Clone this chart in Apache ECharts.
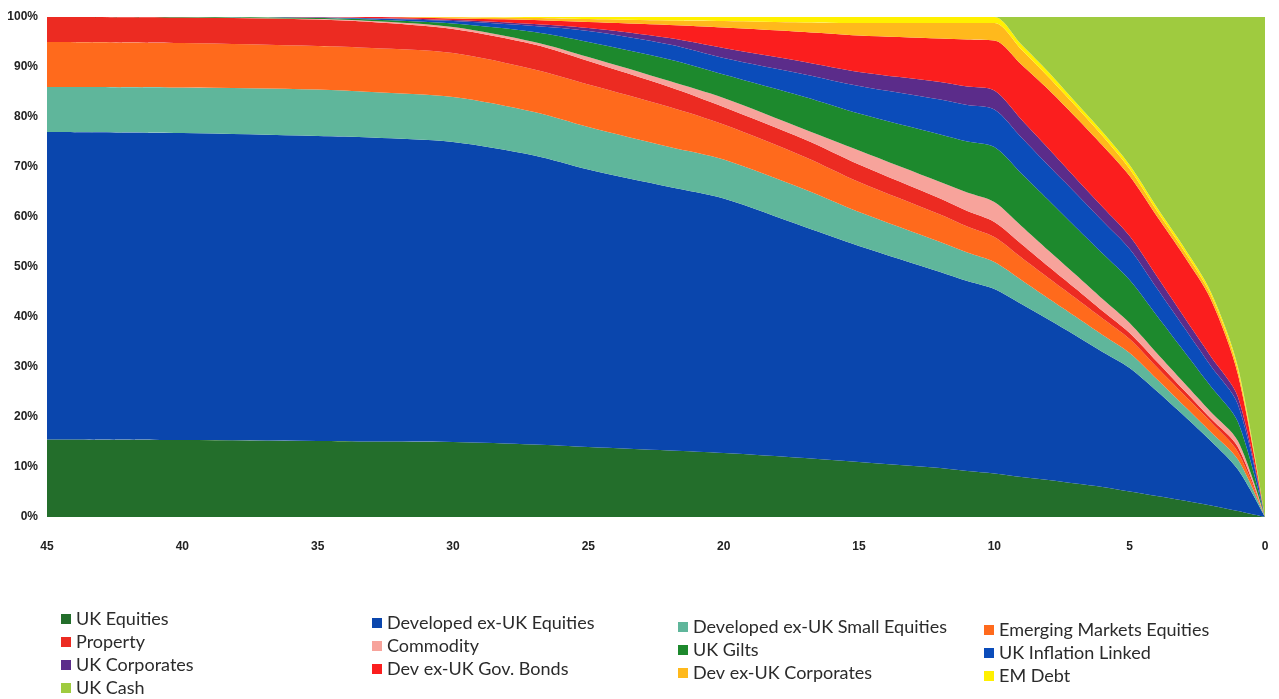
<!DOCTYPE html>
<html>
<head>
<meta charset="utf-8">
<script src="https://cdn.jsdelivr.net/npm/echarts@6/dist/echarts.min.js"></script>
<style>
html,body{margin:0;padding:0;background:#fff;}
#chart{width:1279px;height:699px;}
</style>
</head>
<body>
<div id="chart"></div>
<script>
// Years to retirement (x positions)
const years = [45, 40, 35, 33, 30, 27, 25, 22, 20, 17, 15, 12, 11, 10, 9, 8, 7, 6, 5, 4, 3, 2, 1, 0];

// Allocation (%) per asset class
const ukEquities      = [15.5, 15.4, 15.2, 15.1, 15.0, 14.5, 14.0, 13.3, 12.8, 11.8, 11.0, 9.8, 9.2, 8.7, 8.0, 7.4, 6.7, 6.0, 5.1, 4.2, 3.3, 2.3, 1.2, 0];
const devExUkEquities = [61.5, 61.4, 61.0, 60.8, 60.0, 57.8, 55.5, 52.7, 50.9, 46.2, 43.2, 39.2, 38.0, 36.9, 34.6, 32.1, 29.6, 27.0, 24.7, 21.0, 17.0, 12.9, 8.3, 0];
const devExUkSmall    = [9.0, 9.1, 9.3, 9.1, 9.0, 8.7, 8.5, 8.0, 7.8, 7.5, 6.8, 6.0, 5.7, 5.4, 4.8, 4.2, 3.8, 3.4, 3.0, 2.4, 2.0, 1.8, 2.0, 0];
const emEquities      = [9.0, 8.9, 8.7, 8.8, 8.8, 8.5, 8.5, 8.0, 7.0, 6.5, 6.0, 5.5, 5.2, 5.0, 4.5, 4.1, 3.7, 3.3, 2.8, 2.4, 2.2, 2.0, 1.5, 0];
const property        = [5.0, 5.1, 5.3, 5.2, 4.8, 5.0, 4.7, 4.0, 3.5, 3.5, 3.5, 3.2, 3.1, 3.0, 2.7, 2.3, 1.9, 1.5, 1.2, 1.1, 0.9, 0.7, 1.0, 0];
const commodity       = [0, 0, 0.1, 0.2, 0.4, 0.5, 0.8, 1.2, 1.8, 2.0, 2.8, 3.3, 3.7, 4.0, 3.6, 3.2, 2.8, 2.4, 2.0, 1.7, 1.5, 1.3, 1.2, 0];
const ukGilts         = [0, 0.1, 0.2, 0.3, 0.7, 2.0, 3.0, 4.3, 4.7, 6.5, 7.4, 9.5, 10.2, 11.0, 10.5, 10.1, 9.5, 9.1, 8.6, 7.5, 6.3, 5.1, 3.8, 0];
const ukInflation     = [0, 0, 0.1, 0.2, 0.5, 1.2, 2.2, 3.0, 3.3, 4.5, 5.5, 7.0, 7.3, 7.5, 7.2, 6.9, 6.8, 6.5, 6.2, 5.5, 4.8, 4.1, 3.5, 0];
const ukCorporates    = [0, 0, 0.05, 0.1, 0.2, 0.4, 0.6, 1.3, 2.0, 2.5, 2.8, 3.5, 3.7, 3.8, 3.6, 3.4, 3.0, 2.8, 2.6, 2.4, 2.1, 1.9, 1.5, 0];
const devGovBonds     = [0, 0, 0.05, 0.2, 0.3, 0.8, 1.2, 2.6, 4.1, 6.0, 7.3, 8.7, 9.4, 10.0, 11.0, 11.8, 12.2, 12.3, 12.0, 12.0, 12.2, 11.4, 4.5, 0];
const devCorporates   = [0, 0, 0, 0, 0.25, 0.4, 0.6, 0.9, 1.3, 1.9, 2.5, 3.1, 3.3, 3.5, 3.0, 2.5, 2.2, 1.9, 1.4, 1.1, 1.0, 0.9, 0.9, 0];
const emDebt          = [0, 0, 0, 0, 0.05, 0.2, 0.4, 0.7, 0.8, 1.1, 1.2, 1.2, 1.2, 1.2, 1.0, 1.0, 0.8, 0.8, 0.8, 0.7, 0.7, 0.6, 0.6, 0];
const ukCash          = [0, 0, 0, 0, 0, 0, 0, 0, 0, 0, 0, 0, 0, 0, 5.5, 11, 17, 23, 29.6, 38, 46, 55, 70, 100];

const xTicks = [45, 40, 35, 30, 25, 20, 15, 10, 5, 0];

const seriesDefs = [
  ['UK Equities', ukEquities, '#236e2b'],
  ['Developed ex-UK Equities', devExUkEquities, '#0a46ad'],
  ['Developed ex-UK Small Equities', devExUkSmall, '#5fb69b'],
  ['Emerging Markets Equities', emEquities, '#ff6a1c'],
  ['Property', property, '#ec2b22'],
  ['Commodity', commodity, '#f7a39b'],
  ['UK Gilts', ukGilts, '#1d892d'],
  ['UK Inflation Linked', ukInflation, '#0b4cba'],
  ['UK Corporates', ukCorporates, '#5b2c8a'],
  ['Dev ex-UK Gov. Bonds', devGovBonds, '#fb1e1e'],
  ['Dev ex-UK Corporates', devCorporates, '#ffb91c'],
  ['EM Debt', emDebt, '#fff000'],
  ['UK Cash', ukCash, '#9fcb3f']
];

// value first, year second: the library stacks the first numeric dimension
const series = seriesDefs.map(([name, vals, color]) => ({
  name: name,
  type: 'line',
  stack: 'total',
  smooth: 0.3,
  symbol: 'none',
  showSymbol: false,
  lineStyle: { width: 0 },
  itemStyle: { color: color },
  areaStyle: { color: color, opacity: 1 },
  emphasis: { disabled: true },
  encode: { x: 1, y: 0 },
  data: years.map((y, i) => [vals[i], y])
}));

const legendCols = [
  ['UK Equities', 'Property', 'UK Corporates', 'UK Cash'],
  ['Developed ex-UK Equities', 'Commodity', 'Dev ex-UK Gov. Bonds'],
  ['Developed ex-UK Small Equities', 'UK Gilts', 'Dev ex-UK Corporates'],
  ['Emerging Markets Equities', 'UK Inflation Linked', 'EM Debt']
];
const legendLeft = [61, 372, 678, 984];
const legendTop = [610, 614, 618, 621];

const legend = legendCols.map((names, k) => ({
  orient: 'vertical',
  left: legendLeft[k],
  top: legendTop[k],
  height: 100,
  padding: 0,
  data: names,
  icon: 'rect',
  itemWidth: 10,
  itemHeight: 10,
  itemGap: 5,
  selectedMode: false,
  textStyle: { fontFamily: 'Lato', fontSize: 18, color: '#2b2b2b', lineHeight: 18 }
}));

const chart = echarts.init(document.getElementById('chart'), null, { renderer: 'canvas' });
chart.setOption({
  animation: false,
  backgroundColor: '#ffffff',
  grid: { left: 47, right: 14, top: 17, bottom: 182 },
  legend: legend,
  xAxis: {
    type: 'value',
    inverse: true,
    min: 0,
    max: 45,
    interval: 5,
    axisLine: { show: false },
    axisTick: { show: false },
    splitLine: { show: false },
    axisLabel: {
      margin: 24,
      fontFamily: 'Liberation Sans',
      fontWeight: 'bold',
      fontSize: 12,
      color: '#222',
      formatter: v => (xTicks.indexOf(v) >= 0 ? String(v) : '')
    }
  },
  yAxis: {
    type: 'value',
    min: 0,
    max: 100,
    interval: 10,
    axisLine: { show: false },
    axisTick: { show: false },
    splitLine: { show: false },
    axisLabel: {
      margin: 9,
      fontFamily: 'Liberation Sans',
      fontWeight: 'bold',
      fontSize: 12,
      color: '#222',
      formatter: '{value}%'
    }
  },
  series: series
});
</script>
</body>
</html>
